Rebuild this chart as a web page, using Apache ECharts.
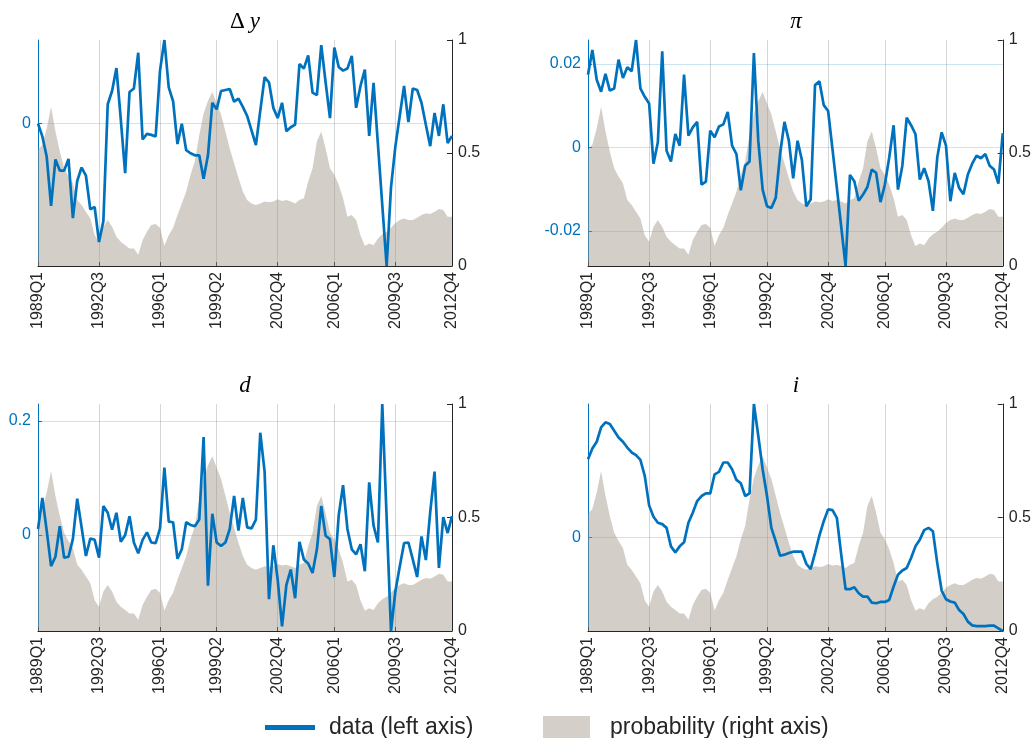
<!DOCTYPE html>
<html>
<head>
<meta charset="utf-8">
<script src="https://cdn.jsdelivr.net/npm/echarts@6/dist/echarts.min.js"></script>
<style>
  html, body { margin: 0; padding: 0; background: #ffffff; }
  #chart { width: 1034px; height: 738px; }
</style>
</head>
<body>
<div id="chart"></div>
<script>
// Quarterly sample 1989Q1 .. 2012Q4
const START_YEAR = 1989;
const N_QUARTERS = 96;
const QUARTERS = [];
for (let k = 0; k < N_QUARTERS; k++) {
  QUARTERS.push((START_YEAR + Math.floor(k / 4)) + 'Q' + (k % 4 + 1));
}
const TICK_LABELS = ['1989Q1', '1992Q3', '1996Q1', '1999Q2', '2002Q4', '2006Q1', '2009Q3', '2012Q4'];

// Regime probability (right axis), shared by all panels
const PROBABILITY = [
  0.515, 0.537, 0.61, 0.705, 0.596, 0.507, 0.433, 0.396, 0.366, 0.292,
  0.27, 0.24, 0.21, 0.136, 0.107, 0.174, 0.203, 0.174, 0.129, 0.107,
  0.092, 0.077, 0.077, 0.05, 0.114, 0.151, 0.181, 0.186, 0.169, 0.09,
  0.136, 0.169, 0.226, 0.277, 0.329, 0.404, 0.463, 0.58, 0.675, 0.73,
  0.77, 0.72, 0.67, 0.596, 0.52, 0.455, 0.39, 0.33, 0.292, 0.277,
  0.27, 0.277, 0.285, 0.282, 0.285, 0.295, 0.288, 0.292, 0.285, 0.277,
  0.292, 0.30, 0.374, 0.433, 0.552, 0.595, 0.52, 0.433, 0.404, 0.36,
  0.30, 0.218, 0.226, 0.203, 0.136, 0.089, 0.10, 0.092, 0.122, 0.14,
  0.151, 0.169, 0.19, 0.203, 0.21, 0.203, 0.203, 0.214, 0.226, 0.233,
  0.23, 0.24, 0.252, 0.248, 0.218, 0.218
];

// Output growth
const DY = [
  0.0000, -0.0025, -0.0065, -0.0161, -0.0070, -0.0092, -0.0092, -0.0069, -0.0185, -0.0112,
  -0.0086, -0.0102, -0.0168, -0.0163, -0.0232, -0.0191, 0.0038, 0.0064, 0.0109, 0.0008,
  -0.0097, 0.0062, 0.0069, 0.0139, -0.0031, -0.0020, -0.0022, -0.0025, 0.0104, 0.0164,
  0.0071, 0.0044, -0.0040, 0.0000, -0.0052, -0.0058, -0.0062, -0.0062, -0.0108, -0.0062,
  0.0041, 0.0028, 0.0064, 0.0066, 0.0068, 0.0043, 0.0049, 0.0033, 0.0015, -0.0013,
  -0.0042, 0.0025, 0.0091, 0.0081, 0.0031, 0.0011, 0.0041, -0.0015, -0.0007, -0.0002,
  0.0117, 0.0108, 0.0134, 0.0061, 0.0056, 0.0154, 0.0081, 0.0011, 0.0149, 0.0111,
  0.0104, 0.0108, 0.0133, 0.0031, 0.0074, 0.0106, -0.0024, 0.0080, -0.0040, -0.0159,
  -0.0279, -0.0125, -0.0045, 0.0015, 0.0074, 0.0003, 0.0069, 0.0066, 0.0041, -0.0002,
  -0.0044, 0.0021, -0.0024, 0.0038, -0.0038, -0.0024
];

// Inflation
const PI = [
  0.0174, 0.0233, 0.0162, 0.0133, 0.0176, 0.0136, 0.0141, 0.0210, 0.0166, 0.0192,
  0.0182, 0.0257, 0.0141, 0.0121, 0.0105, -0.0039, 0.0012, 0.0230, -0.0008, -0.0034,
  0.0032, 0.0004, 0.0174, 0.0028, 0.0048, 0.0061, -0.0089, -0.0082, 0.0040, 0.0024,
  0.0050, 0.0055, 0.0085, 0.0004, -0.0016, -0.0103, -0.0044, -0.0034, 0.0226, 0.0016,
  -0.0101, -0.0141, -0.0145, -0.0121, -0.0016, 0.0061, 0.0016, -0.0074, 0.0016, -0.0031,
  -0.0141, -0.0125, 0.0149, 0.0158, 0.0101, 0.0087, -0.0004, -0.0097, -0.0190, -0.0284,
  -0.0066, -0.0081, -0.0128, -0.0113, -0.0095, -0.0053, -0.0061, -0.0131, -0.0089, -0.0024,
  0.0053, -0.0101, -0.0044, 0.0071, 0.0053, 0.0032, -0.0077, -0.0050, -0.0081, -0.0152,
  -0.0024, 0.0036, 0.0004, -0.0129, -0.0061, -0.0097, -0.0112, -0.0065, -0.0039, -0.0020,
  -0.0026, -0.0016, -0.0044, -0.0053, -0.0087, 0.0034
];

// d
const D = [
  0.0107, 0.0651, 0.0077, -0.0544, -0.0379, 0.0154, -0.0396, -0.0379, -0.0071, 0.0639,
  0.0136, -0.0367, -0.0059, -0.0083, -0.0396, 0.0509, 0.0391, 0.0095, 0.0391, -0.0118,
  0.0000, 0.0331, -0.0130, -0.0320, -0.0083, 0.0047, -0.0130, -0.0142, 0.0118, 0.1183,
  0.0237, 0.0225, -0.0414, -0.0249, 0.0225, 0.0178, 0.0154, 0.0272, 0.1716, -0.0888,
  0.0373, -0.0130, -0.0189, -0.0130, 0.0107, 0.0686, 0.0077, 0.0651, 0.0136, 0.0118,
  0.0272, 0.1793, 0.1112, -0.1124, -0.0178, -0.0781, -0.1598, -0.0870, -0.0604, -0.1106,
  -0.0118, -0.0426, -0.0497, -0.0663, -0.0249, 0.0509, -0.0012, -0.0071, -0.0734, 0.0343,
  0.0876, 0.0107, -0.0249, -0.0337, -0.0160, -0.0633, 0.0923, 0.0166, -0.0130, 0.2296,
  0.0308, -0.1680, -0.0988, -0.0556, -0.0142, -0.0130, -0.0426, -0.0734, -0.0024, -0.0438,
  0.0402, 0.1112, -0.0574, 0.0314, 0.0036, 0.0331
];

// Interest rate
const I = [
  0.00583, 0.00663, 0.00713, 0.00820, 0.00858, 0.00845, 0.00795, 0.00745, 0.00713, 0.00670,
  0.00633, 0.00613, 0.00578, 0.00458, 0.00238, 0.00153, 0.00108, 0.00098, 0.00070, -0.00068,
  -0.00113, -0.00068, -0.00038, 0.00108, 0.00183, 0.00270, 0.00308, 0.00328, 0.00328, 0.00470,
  0.00488, 0.00558, 0.00558, 0.00508, 0.00428, 0.00403, 0.00308, 0.00328, 0.00995, 0.00758,
  0.00508, 0.00308, 0.00070, -0.00030, -0.00138, -0.00130, -0.00118, -0.00108, -0.00108, -0.00108,
  -0.00198, -0.00238, -0.00118, 0.00013, 0.00120, 0.00208, 0.00203, 0.00145, -0.00130, -0.00388,
  -0.00388, -0.00373, -0.00418, -0.00443, -0.00443, -0.00488, -0.00493, -0.00483, -0.00483, -0.00468,
  -0.00368, -0.00280, -0.00248, -0.00230, -0.00155, -0.00068, -0.00018, 0.00053, 0.00070, 0.00045,
  -0.00193, -0.00398, -0.00463, -0.00480, -0.00488, -0.00543, -0.00573, -0.00630, -0.00658, -0.00663,
  -0.00663, -0.00663, -0.00660, -0.00660, -0.00680, -0.00700
];

const BLUE = '#0072BD';
const INK = '#262626';
const SANS = '"Liberation Sans", Arial, Helvetica, sans-serif';
const SERIF = '"Liberation Serif", "Times New Roman", serif';
const AREA_FILL = 'rgba(158,148,132,0.45)';
const AREA_SOLID = 'rgb(212,208,201)';

const PANELS = [
  { title: '{u|Δ} {i|y}', data: DY, split: 1, grid: { left: 38, top: 40, width: 414, height: 226 }, tx: 245, ty: 10 },
  { title: '{i|π}', data: PI, split: 3, grid: { left: 588, top: 40, width: 416, height: 226 }, tx: 796, ty: 10 },
  { title: '{i|d}', data: D, split: 2, grid: { left: 38, top: 404, width: 414, height: 227 }, tx: 245, ty: 374 },
  { title: '{i|i}', data: I, split: 1, grid: { left: 588, top: 404, width: 416, height: 227 }, tx: 796, ty: 374 }
];

const tickSet = new Set(TICK_LABELS);
const onTick = (idx, val) => tickSet.has(val);

const titles = [], grids = [], xAxes = [], yAxes = [], series = [];
PANELS.forEach((p, g) => {
  titles.push({
    text: p.title, left: p.tx, top: p.ty, textAlign: 'center', padding: 0,
    textStyle: {
      fontWeight: 'normal',
      rich: {
        u: { fontFamily: SERIF, fontSize: 23, fontWeight: 'normal', color: '#000' },
        i: { fontFamily: SERIF, fontSize: 23, fontWeight: 'normal', fontStyle: 'italic', color: '#000' }
      }
    }
  });
  grids.push(Object.assign({ containLabel: false }, p.grid));
  xAxes.push({
    type: 'category', gridIndex: g, data: QUARTERS, boundaryGap: false,
    axisLine: { onZero: false, lineStyle: { color: INK, width: 1 } },
    axisTick: { inside: true, length: 4, interval: onTick, lineStyle: { color: INK } },
    axisLabel: { interval: onTick, rotate: 90, fontSize: 16, color: INK, margin: 6, fontFamily: SANS },
    splitLine: { show: true, interval: onTick, lineStyle: { color: 'rgba(0,0,0,0.16)', width: 1 } }
  });
  yAxes.push({
    type: 'value', gridIndex: g, position: 'left', min: 'dataMin', max: 'dataMax', splitNumber: p.split,
    axisLine: { show: true, lineStyle: { color: BLUE, width: 1 } },
    axisTick: { show: true, inside: true, length: 4, lineStyle: { color: BLUE } },
    axisLabel: { color: BLUE, fontSize: 16, margin: 7, fontFamily: SANS, showMinLabel: false, showMaxLabel: false },
    splitLine: { show: true, showMinLine: false, showMaxLine: false, lineStyle: { color: 'rgba(0,114,189,0.2)', width: 1 } }
  });
  yAxes.push({
    type: 'value', gridIndex: g, position: 'right', min: 0, max: 1, interval: 0.5,
    axisLine: { show: true, lineStyle: { color: INK, width: 1 } },
    axisTick: { show: true, inside: true, length: 5, lineStyle: { color: INK } },
    axisLabel: { color: INK, fontSize: 16, margin: 6, fontFamily: SANS, formatter: v => String(v) },
    splitLine: { show: false }
  });
  series.push({
    name: 'probability (right axis)', type: 'line', xAxisIndex: g, yAxisIndex: 2 * g + 1,
    data: PROBABILITY, symbol: 'none', silent: true, z: 1,
    lineStyle: { width: 0 }, itemStyle: { color: AREA_SOLID },
    areaStyle: { color: AREA_FILL, opacity: 1 }
  });
  series.push({
    name: 'data (left axis)', type: 'line', xAxisIndex: g, yAxisIndex: 2 * g,
    data: p.data, symbol: 'none', z: 3,
    lineStyle: { width: 2.7, color: BLUE }, itemStyle: { color: BLUE }
  });
});

const chart = echarts.init(document.getElementById('chart'));
chart.setOption({
  animation: false,
  backgroundColor: '#ffffff',
  title: titles,
  grid: grids,
  xAxis: xAxes,
  yAxis: yAxes,
  series: series,
  legend: [
    {
      data: [{ name: 'data (left axis)', icon: 'rect' }],
      left: 265, top: 716, padding: 0, itemWidth: 50, itemHeight: 5,
      textStyle: { fontSize: 23, color: INK, fontFamily: SANS, padding: [0, 0, 0, 9] }
    },
    {
      data: [{ name: 'probability (right axis)', icon: 'rect', itemStyle: { color: AREA_SOLID, borderWidth: 0 } }],
      left: 543, top: 716, padding: 0, itemWidth: 47, itemHeight: 24,
      textStyle: { fontSize: 23, color: INK, fontFamily: SANS, padding: [0, 0, 0, 15] }
    }
  ]
});
</script>
</body>
</html>
